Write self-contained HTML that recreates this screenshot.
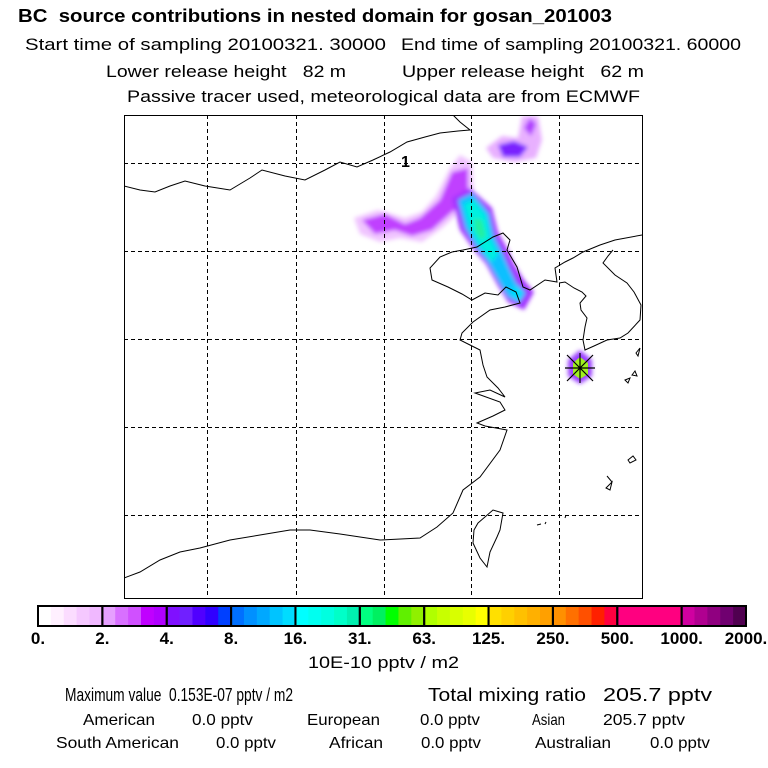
<!DOCTYPE html>
<html><head><meta charset="utf-8"><style>
html,body{margin:0;padding:0;background:#fff;width:768px;height:768px;overflow:hidden}
svg{display:block;font-family:"Liberation Sans",sans-serif}
text{white-space:pre}
</style></head><body>
<svg id="fig" width="768" height="768" viewBox="0 0 768 768">
<defs>
<filter id="blur" x="-50%" y="-50%" width="200%" height="200%"><feGaussianBlur stdDeviation="2"/></filter>
<clipPath id="mapclip"><rect x="124" y="115" width="518" height="483"/></clipPath>
</defs>
<g>
<text x="18" y="22" font-size="18" font-weight="bold" textLength="594" lengthAdjust="spacingAndGlyphs">BC  source contributions in nested domain for gosan_201003</text>
<text x="25" y="50" font-size="17" textLength="361" lengthAdjust="spacingAndGlyphs">Start time of sampling 20100321. 30000</text>
<text x="401" y="50" font-size="17" textLength="340" lengthAdjust="spacingAndGlyphs">End time of sampling 20100321. 60000</text>
<text x="106" y="77" font-size="17" textLength="240" lengthAdjust="spacingAndGlyphs">Lower release height   82 m</text>
<text x="402" y="77" font-size="17" textLength="242" lengthAdjust="spacingAndGlyphs">Upper release height   62 m</text>
<text x="127" y="102" font-size="17" textLength="513" lengthAdjust="spacingAndGlyphs">Passive tracer used, meteorological data are from ECMWF</text>
</g>
<g clip-path="url(#mapclip)">
<g filter="url(#blur)">
<path d="M354,218 L378,210 L405,218 L422,212 L436,196 L450,168 L460,155 L472,162 L474,196 L462,210 L442,228 L422,242 L400,238 L380,242 L360,234 Z" fill="#f0c4ff"/>
<path d="M362,220 L385,214 L405,224 L420,218 L440,200 L452,172 L468,168 L468,200 L452,212 L432,230 L412,236 L395,230 L375,234 Z" fill="#c040ff"/>
<path d="M486,148 L502,136 L518,138 L522,116 L538,116 L542,140 L536,158 L515,162 L493,158 Z" fill="#e8b0ff"/>
<path d="M498,145 L514,141 L528,147 L520,157 L503,157 Z" fill="#7a20ff"/>
<path d="M524,128 L530,118 L536,124 L531,136 Z" fill="#b040ff"/>
<path d="M452,198 L470,188 L492,208 L498,232 L508,250 L514,264 L524,280 L534,292 L524,310 L508,302 L498,286 L486,264 L474,250 L460,230 Z" fill="#a030ff"/>
<path d="M458,200 L472,193 L489,213 L494,236 L502,252 L508,266 L516,283 L526,293 L519,303 L508,297 L498,280 L488,262 L476,247 L465,228 Z" fill="#10c0ff"/>
<path d="M464,204 L474,200 L486,216 L490,238 L498,254 L492,262 L480,246 L470,228 Z" fill="#00f0e0"/>
<path d="M512,286 L522,290 L520,300 L512,296 Z" fill="#00e0ff"/>
<path d="M474,218 L482,220 L486,236 L480,240 L475,230 Z" fill="#20f0a0"/>
</g>
<g>
<path d="M568,360 L580,350 L592,360 L592,376 L580,384 L568,376 Z" fill="#9b40ff" filter="url(#blur)"/>
<path d="M573,363 L580,357 L588,363 L588,374 L580,379 L573,374 Z" fill="#a0f020"/>
<path d="M567,355 L593,381 M593,355 L567,381 M565,368 L595,368 M580,353 L580,383" stroke="#000" stroke-width="1.2"/>
</g>
<g fill="none" stroke="#000" stroke-width="1">
<path d="M124,186 L140,190 L155,192 L170,186 L185,181 L205,186 L230,190 L250,178 L262,170 L285,176 L305,180 L325,170 L340,162 L357,167 L373,160 L390,152 L407,142 L425,137 L440,133 L458,131 L470,130 L460,122 L453,115"/>
<path d="M124,578 L140,572 L160,560 L180,552 L200,548 L230,540 L260,535 L290,530 L310,530 L340,534 L380,540 L420,538 L437,527 L453,513 L463,490 L480,477 L500,450 L507,430 L485,426 L477,423 L493,416 L505,410 L500,402 L475,393 L490,390 L505,397 L498,388 L487,377 L483,365 L480,350 L470,345 L460,340 L462,333 L473,322 L490,310 L505,307 L520,303 L516,292 L506,287 L498,295 L485,293 L472,300 L462,294 L448,287 L432,280 L430,268 L440,257 L452,252 L463,250 L477,247 L493,237 L503,233 L510,240 L507,250 L517,267 L523,287 L530,290 L545,280 L557,282 L555,268 L565,262 L573,258 L583,252 L600,245 L615,240 L642,235"/>
<path d="M559,283 L565,282 L574,288 L582,292 L586,296 L580,303 L581,310 L587,318 L585,327 L583,340 L585,350 L594,346 L607,340 L620,338 L628,333 L640,320 L641,305 L634,292 L627,283 L615,275 L603,263 L608,256 L613,250"/>
<path d="M478,523 L493,510 L503,513 L500,530 L497,537 L490,552 L487,567 L480,558 L473,543 L474,530 Z"/>
<path d="M636,353 L640,348 L638,356 Z M625,380 L630,378 L628,383 Z M632,375 L635,371 L637,376 Z M628,460 L633,456 L636,460 L630,463 Z M607,476 L612,482 M606,488 L612,482 L610,490 Z M537,525 L541,524 M545,524 L546,522 M565,518 L566,515"/>
</g>
<g id="grid" stroke="#000" stroke-width="1" stroke-dasharray="4,3"></g>
<text x="401" y="167" font-size="16" font-weight="bold">1</text>
</g>
<rect x="124.5" y="115.5" width="518" height="483" fill="none" stroke="#000" stroke-width="1"/>
<g id="cbar"></g>
<text x="308" y="668" font-size="17" textLength="151" lengthAdjust="spacingAndGlyphs">10E-10 pptv / m2</text>
<g font-size="18">
<text x="65" y="701" textLength="228" lengthAdjust="spacingAndGlyphs">Maximum value  0.153E-07 pptv / m2</text>
<text x="428" y="701" textLength="158" lengthAdjust="spacingAndGlyphs">Total mixing ratio</text>
<text x="603" y="701" textLength="109" lengthAdjust="spacingAndGlyphs">205.7 pptv</text>
</g>
<g font-size="16">
<text x="83" y="725" textLength="72" lengthAdjust="spacingAndGlyphs">American</text>
<text x="192" y="725" textLength="61" lengthAdjust="spacingAndGlyphs">0.0 pptv</text>
<text x="307" y="725" textLength="73" lengthAdjust="spacingAndGlyphs">European</text>
<text x="420" y="725" textLength="60" lengthAdjust="spacingAndGlyphs">0.0 pptv</text>
<text x="532" y="725" textLength="33" lengthAdjust="spacingAndGlyphs">Asian</text>
<text x="603" y="725" textLength="82" lengthAdjust="spacingAndGlyphs">205.7 pptv</text>
<text x="56" y="748" textLength="123" lengthAdjust="spacingAndGlyphs">South American</text>
<text x="216" y="748" textLength="60" lengthAdjust="spacingAndGlyphs">0.0 pptv</text>
<text x="329" y="748" textLength="54" lengthAdjust="spacingAndGlyphs">African</text>
<text x="421" y="748" textLength="60" lengthAdjust="spacingAndGlyphs">0.0 pptv</text>
<text x="535" y="748" textLength="76" lengthAdjust="spacingAndGlyphs">Australian</text>
<text x="650" y="748" textLength="60" lengthAdjust="spacingAndGlyphs">0.0 pptv</text>
</g>
</svg>
<script>
const tickLabels = ["0.","2.","4.","8.","16.","31.","63.","125.","250.","500.","1000.","2000."];
const boxColors = [
 ["#ffffff","#fff0ff","#fbdcff","#f5c8ff","#f0b8ff"],
 ["#e6a0ff","#d870ff","#d050ff","#c000ff","#b000ff"],
 ["#8010ff","#7020ff","#5000ff","#3000ff","#0040ff"],
 ["#0070ff","#0090ff","#00a8ff","#00c4ff","#00dcff"],
 ["#00ffff","#00fff0","#00ffe0","#00ffc8","#00f0b0"],
 ["#00ff80","#00f060","#00ff00","#60f000","#90f000"],
 ["#b0ff00","#c8ff00","#d8ff00","#e8ff00","#ffff00"],
 ["#ffe000","#ffd000","#ffc000","#ffb000","#ffa000"],
 ["#ff9000","#ff7000","#ff5000","#ff2000","#ff0040"],
 ["#ff0080","#ff0080","#ff0080","#ff0080","#ff0080"],
 ["#d000a0","#b00090","#900080","#700070","#500050"]
];
const latLines = [163, 251, 339, 427, 515];
const lonLines = [207, 296, 384, 471, 559];
const NS="http://www.w3.org/2000/svg";
const grid=document.getElementById('grid');
lonLines.forEach(x=>{const l=document.createElementNS(NS,'line');


l.setAttribute('x1',x+.5);l.setAttribute('x2',x+.5);l.setAttribute('y1',115);l.setAttribute('y2',598);grid.appendChild(l);});
latLines.forEach(y=>{const l=document.createElementNS(NS,'line');


l.setAttribute('y1',y+.5);l.setAttribute('y2',y+.5);l.setAttribute('x1',124);l.setAttribute('x2',642);grid.appendChild(l);});
const cb=document.getElementById('cbar');
const x0=38,x1=746,y0=606,h=20;
const bw=(x1-x0)/boxColors.length;
boxColors.forEach((shades,i)=>{shades.forEach((c,j)=>{const r=document.createElementNS(NS,'rect');


r.setAttribute('x',x0+i*bw+j*bw/shades.length);r.setAttribute('y',y0);r.setAttribute('width',bw/shades.length+0.6);r.setAttribute('height',h);r.setAttribute('fill',c);cb.appendChild(r);});});
boxColors.forEach((s,i)=>{const r=document.createElementNS(NS,'rect');


r.setAttribute('x',x0+i*bw);r.setAttribute('y',y0);r.setAttribute('width',bw);r.setAttribute('height',h);r.setAttribute('fill','none');r.setAttribute('stroke','#000');r.setAttribute('stroke-width','2');cb.appendChild(r);});
tickLabels.forEach((t,i)=>{const tx=document.createElementNS(NS,'text');


tx.setAttribute('x',x0+i*bw);tx.setAttribute('y',644);tx.setAttribute('font-size','17');tx.setAttribute('font-weight','bold');tx.setAttribute('text-anchor','middle');tx.textContent=t;cb.appendChild(tx);});
</script>
</body></html>
